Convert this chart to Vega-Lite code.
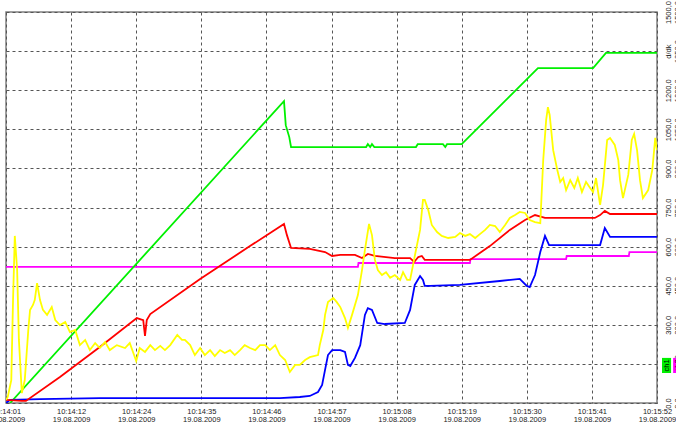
{
  "$schema": "https://vega.github.io/schema/vega-lite/v6.json",
  "width": 651,
  "height": 391,
  "autosize": {"type": "none"},
  "padding": {"left": 6, "top": 12, "right": 19, "bottom": 20},
  "background": "white",
  "config": {
    "view": {"stroke": "#808080", "strokeWidth": 1.5},
    "axis": {"labelFont": "Liberation Sans", "labelColor": "#222222", "labelFontSize": 7.5, "domain": false, "ticks": false, "title": null}
  },
  "datasets": {
    "lines": [
      {"s":"ch2","t":0,"v":522},{"s":"ch2","t":60.0,"v":522},{"s":"ch2","t":60.1,"v":537},{"s":"ch2","t":79.1,"v":537},{"s":"ch2","t":79.2,"v":552},{"s":"ch2","t":95.5,"v":552},{"s":"ch2","t":95.6,"v":564},{"s":"ch2","t":106.2,"v":564},{"s":"ch2","t":106.3,"v":579},{"s":"ch2","t":111,"v":579},

      {"s":"ch1","t":0.7,"v":0},{"s":"ch1","t":47.4,"v":1158},{"s":"ch1","t":47.7,"v":1066},{"s":"ch1","t":48.3,"v":1020},{"s":"ch1","t":48.6,"v":982},{"s":"ch1","t":61.4,"v":982},{"s":"ch1","t":61.7,"v":993},{"s":"ch1","t":62.1,"v":982},{"s":"ch1","t":62.4,"v":993},{"s":"ch1","t":62.8,"v":982},{"s":"ch1","t":69.9,"v":982},{"s":"ch1","t":70.2,"v":993},{"s":"ch1","t":74.5,"v":993},{"s":"ch1","t":74.9,"v":982},{"s":"ch1","t":75.2,"v":993},{"s":"ch1","t":77.7,"v":993},{"s":"ch1","t":90.7,"v":1285},{"s":"ch1","t":100.1,"v":1285},{"s":"ch1","t":102.3,"v":1343},{"s":"ch1","t":111,"v":1343},

      {"s":"ch5","t":0,"v":0},{"s":"ch5","t":0.7,"v":12},{"s":"ch5","t":5.8,"v":15},{"s":"ch5","t":16,"v":19},{"s":"ch5","t":33.1,"v":19},{"s":"ch5","t":46.7,"v":19},{"s":"ch5","t":50.1,"v":23},{"s":"ch5","t":51.8,"v":27},{"s":"ch5","t":53.2,"v":42},{"s":"ch5","t":53.9,"v":69},{"s":"ch5","t":54.4,"v":127},{"s":"ch5","t":54.9,"v":184},{"s":"ch5","t":55.6,"v":203},{"s":"ch5","t":57.0,"v":203},{"s":"ch5","t":57.8,"v":196},{"s":"ch5","t":58.3,"v":146},{"s":"ch5","t":58.7,"v":142},{"s":"ch5","t":59.5,"v":173},{"s":"ch5","t":60.4,"v":222},{"s":"ch5","t":61.2,"v":338},{"s":"ch5","t":61.7,"v":364},{"s":"ch5","t":62.4,"v":357},{"s":"ch5","t":63.3,"v":307},{"s":"ch5","t":64.6,"v":303},{"s":"ch5","t":68.0,"v":307},{"s":"ch5","t":68.9,"v":357},{"s":"ch5","t":69.7,"v":453},{"s":"ch5","t":70.6,"v":487},{"s":"ch5","t":71.1,"v":472},{"s":"ch5","t":71.4,"v":449},{"s":"ch5","t":72.3,"v":449},{"s":"ch5","t":77.4,"v":453},{"s":"ch5","t":84.2,"v":468},{"s":"ch5","t":87.6,"v":476},{"s":"ch5","t":88.8,"v":449},{"s":"ch5","t":89.3,"v":445},{"s":"ch5","t":90.2,"v":491},{"s":"ch5","t":91.1,"v":579},{"s":"ch5","t":91.9,"v":641},{"s":"ch5","t":92.6,"v":606},{"s":"ch5","t":101.3,"v":606},{"s":"ch5","t":102.1,"v":671},{"s":"ch5","t":103.0,"v":637},{"s":"ch5","t":111,"v":637},

      {"s":"ch4","t":0,"v":12},{"s":"ch4","t":2.7,"v":8},{"s":"ch4","t":3.4,"v":8},{"s":"ch4","t":9.2,"v":100},{"s":"ch4","t":16.0,"v":215},{"s":"ch4","t":22.3,"v":326},{"s":"ch4","t":23.4,"v":318},{"s":"ch4","t":23.7,"v":257},{"s":"ch4","t":24.0,"v":318},{"s":"ch4","t":24.6,"v":341},{"s":"ch4","t":33.1,"v":476},{"s":"ch4","t":41.6,"v":602},{"s":"ch4","t":47.4,"v":687},{"s":"ch4","t":47.9,"v":644},{"s":"ch4","t":48.6,"v":595},{"s":"ch4","t":51.8,"v":591},{"s":"ch4","t":54.4,"v":579},{"s":"ch4","t":55.6,"v":564},{"s":"ch4","t":57.0,"v":568},{"s":"ch4","t":59.5,"v":568},{"s":"ch4","t":60.7,"v":556},{"s":"ch4","t":61.7,"v":572},{"s":"ch4","t":62.9,"v":564},{"s":"ch4","t":66.3,"v":556},{"s":"ch4","t":68.9,"v":556},{"s":"ch4","t":69.6,"v":541},{"s":"ch4","t":70.3,"v":560},{"s":"ch4","t":70.9,"v":564},{"s":"ch4","t":71.4,"v":549},{"s":"ch4","t":79.1,"v":549},{"s":"ch4","t":82.5,"v":602},{"s":"ch4","t":85.9,"v":664},{"s":"ch4","t":88.5,"v":702},{"s":"ch4","t":90.2,"v":721},{"s":"ch4","t":91.9,"v":710},{"s":"ch4","t":96.2,"v":710},{"s":"ch4","t":100.4,"v":710},{"s":"ch4","t":101.3,"v":721},{"s":"ch4","t":102.1,"v":737},{"s":"ch4","t":103.0,"v":725},{"s":"ch4","t":111,"v":725},

      {"s":"ch3","t":0,"v":12},{"s":"ch3","t":0.3,"v":23},{"s":"ch3","t":0.9,"v":88},{"s":"ch3","t":1.2,"v":395},{"s":"ch3","t":1.5,"v":641},{"s":"ch3","t":1.9,"v":510},{"s":"ch3","t":2.2,"v":242},{"s":"ch3","t":2.7,"v":38},{"s":"ch3","t":3.2,"v":88},{"s":"ch3","t":3.8,"v":280},{"s":"ch3","t":4.1,"v":357},{"s":"ch3","t":4.6,"v":376},{"s":"ch3","t":4.9,"v":395},{"s":"ch3","t":5.3,"v":460},{"s":"ch3","t":5.8,"v":395},{"s":"ch3","t":6.3,"v":357},{"s":"ch3","t":7.0,"v":338},{"s":"ch3","t":7.8,"v":368},{"s":"ch3","t":8.4,"v":318},{"s":"ch3","t":9.2,"v":299},{"s":"ch3","t":10.1,"v":311},{"s":"ch3","t":10.9,"v":272},{"s":"ch3","t":11.8,"v":280},{"s":"ch3","t":12.6,"v":222},{"s":"ch3","t":13.5,"v":242},{"s":"ch3","t":14.3,"v":203},{"s":"ch3","t":15.2,"v":230},{"s":"ch3","t":16.0,"v":211},{"s":"ch3","t":16.9,"v":234},{"s":"ch3","t":17.7,"v":203},{"s":"ch3","t":18.9,"v":222},{"s":"ch3","t":20.3,"v":211},{"s":"ch3","t":21.1,"v":230},{"s":"ch3","t":22.2,"v":161},{"s":"ch3","t":22.8,"v":211},{"s":"ch3","t":23.7,"v":196},{"s":"ch3","t":24.6,"v":222},{"s":"ch3","t":25.4,"v":203},{"s":"ch3","t":26.3,"v":219},{"s":"ch3","t":27.1,"v":203},{"s":"ch3","t":28.0,"v":222},{"s":"ch3","t":29.2,"v":261},{"s":"ch3","t":30.0,"v":242},{"s":"ch3","t":30.5,"v":242},{"s":"ch3","t":31.4,"v":222},{"s":"ch3","t":32.2,"v":184},{"s":"ch3","t":33.1,"v":211},{"s":"ch3","t":33.9,"v":184},{"s":"ch3","t":34.8,"v":203},{"s":"ch3","t":35.6,"v":180},{"s":"ch3","t":36.5,"v":203},{"s":"ch3","t":37.3,"v":192},{"s":"ch3","t":38.2,"v":203},{"s":"ch3","t":39.0,"v":184},{"s":"ch3","t":39.9,"v":203},{"s":"ch3","t":40.7,"v":222},{"s":"ch3","t":41.6,"v":211},{"s":"ch3","t":42.5,"v":203},{"s":"ch3","t":43.3,"v":222},{"s":"ch3","t":44.2,"v":222},{"s":"ch3","t":45.0,"v":203},{"s":"ch3","t":45.9,"v":222},{"s":"ch3","t":46.7,"v":184},{"s":"ch3","t":47.6,"v":165},{"s":"ch3","t":48.4,"v":119},{"s":"ch3","t":49.3,"v":146},{"s":"ch3","t":50.1,"v":146},{"s":"ch3","t":51.0,"v":165},{"s":"ch3","t":51.8,"v":176},{"s":"ch3","t":53.2,"v":184},{"s":"ch3","t":53.5,"v":222},{"s":"ch3","t":54.1,"v":280},{"s":"ch3","t":54.4,"v":338},{"s":"ch3","t":54.9,"v":387},{"s":"ch3","t":55.8,"v":403},{"s":"ch3","t":56.4,"v":387},{"s":"ch3","t":57.0,"v":368},{"s":"ch3","t":57.8,"v":326},{"s":"ch3","t":58.3,"v":288},{"s":"ch3","t":59.0,"v":338},{"s":"ch3","t":60.0,"v":414},{"s":"ch3","t":60.7,"v":510},{"s":"ch3","t":61.2,"v":587},{"s":"ch3","t":61.9,"v":687},{"s":"ch3","t":62.4,"v":644},{"s":"ch3","t":62.9,"v":549},{"s":"ch3","t":63.4,"v":510},{"s":"ch3","t":64.1,"v":491},{"s":"ch3","t":64.8,"v":502},{"s":"ch3","t":65.5,"v":480},{"s":"ch3","t":66.3,"v":491},{"s":"ch3","t":67.2,"v":472},{"s":"ch3","t":67.7,"v":502},{"s":"ch3","t":68.4,"v":472},{"s":"ch3","t":68.9,"v":472},{"s":"ch3","t":69.4,"v":529},{"s":"ch3","t":69.9,"v":587},{"s":"ch3","t":70.6,"v":664},{"s":"ch3","t":71.1,"v":779},{"s":"ch3","t":71.4,"v":779},{"s":"ch3","t":72.0,"v":740},{"s":"ch3","t":72.6,"v":683},{"s":"ch3","t":73.5,"v":656},{"s":"ch3","t":74.3,"v":641},{"s":"ch3","t":75.4,"v":633},{"s":"ch3","t":76.6,"v":637},{"s":"ch3","t":77.4,"v":652},{"s":"ch3","t":78.3,"v":641},{"s":"ch3","t":79.1,"v":648},{"s":"ch3","t":80.0,"v":633},{"s":"ch3","t":80.8,"v":648},{"s":"ch3","t":81.7,"v":664},{"s":"ch3","t":82.5,"v":683},{"s":"ch3","t":83.4,"v":679},{"s":"ch3","t":84.2,"v":656},{"s":"ch3","t":85.1,"v":683},{"s":"ch3","t":85.9,"v":710},{"s":"ch3","t":86.8,"v":721},{"s":"ch3","t":87.6,"v":733},{"s":"ch3","t":88.5,"v":729},{"s":"ch3","t":89.3,"v":702},{"s":"ch3","t":90.2,"v":694},{"s":"ch3","t":91.1,"v":690},{"s":"ch3","t":91.6,"v":932},{"s":"ch3","t":92.1,"v":1086},{"s":"ch3","t":92.4,"v":1135},{"s":"ch3","t":92.7,"v":1105},{"s":"ch3","t":93.3,"v":970},{"s":"ch3","t":94.0,"v":894},{"s":"ch3","t":94.5,"v":848},{"s":"ch3","t":95.0,"v":863},{"s":"ch3","t":95.5,"v":817},{"s":"ch3","t":96.2,"v":855},{"s":"ch3","t":96.9,"v":825},{"s":"ch3","t":97.5,"v":863},{"s":"ch3","t":98.2,"v":809},{"s":"ch3","t":98.9,"v":848},{"s":"ch3","t":99.6,"v":825},{"s":"ch3","t":100.1,"v":809},{"s":"ch3","t":100.6,"v":863},{"s":"ch3","t":101.3,"v":760},{"s":"ch3","t":101.8,"v":836},{"s":"ch3","t":102.5,"v":1009},{"s":"ch3","t":103.0,"v":1017},{"s":"ch3","t":103.8,"v":990},{"s":"ch3","t":104.4,"v":932},{"s":"ch3","t":104.7,"v":855},{"s":"ch3","t":105.2,"v":786},{"s":"ch3","t":106.1,"v":875},{"s":"ch3","t":106.7,"v":1009},{"s":"ch3","t":107.1,"v":1032},{"s":"ch3","t":107.6,"v":970},{"s":"ch3","t":108.1,"v":855},{"s":"ch3","t":108.6,"v":786},{"s":"ch3","t":109.5,"v":817},{"s":"ch3","t":110.2,"v":894},{"s":"ch3","t":110.7,"v":1017},{"s":"ch3","t":111,"v":970}
    ],
    "boxes": [
      {"s":"ch1","label":"ch1","x1":111.85,"x2":113.4,"xm":112.62,"y1":115,"y2":173,"ym":144},
      {"s":"ch2","label":"ch2","x1":113.75,"x2":115.3,"xm":114.52,"y1":115,"y2":173,"ym":144}
    ]
  },
  "layer": [
    {
      "data": {"name": "lines"},
      "mark": {"type": "line", "strokeWidth": 1.8, "clip": true},
      "encoding": {
        "x": {"field": "t", "type": "quantitative", "scale": {"domain": [0, 111], "nice": false, "zero": false},
          "axis": {"title": null, "values": [0, 11.1, 22.2, 33.3, 44.4, 55.5, 66.6, 77.7, 88.8, 99.9, 111], "grid": true, "gridColor": "#555555", "gridDash": [3, 3], "gridWidth": 1, "labelPadding": 4, "labelLineHeight": 8, "labelFlush": false, "labelOverlap": false, "labelBound": false,
            "labelExpr": "[['10:14:01','10:14:12','10:14:24','10:14:35','10:14:46','10:14:57','10:15:08','10:15:19','10:15:30','10:15:41','10:15:52'][round(datum.value/11.1)], '19.08.2009']"}},
        "y": {"field": "v", "type": "quantitative", "scale": {"domain": [0, 1500], "nice": false, "zero": true},
          "axis": {"title": null, "orient": "right", "values": [0,150,300,450,600,750,900,1050,1200,1350,1500], "grid": true, "gridColor": "#555555", "gridDash": [3, 3], "gridWidth": 1, "labelAngle": 270, "labelAlign": "center", "labelBaseline": "top", "labelPadding": 7, "labelOverlap": false, "labelFlush": false, "labelBound": false,
            "labelExpr": "datum.value == 1350 ? 'd/dk' : (datum.value == 150 ? '' : replace(format(datum.value, '.1f'), '.', ','))"}},
        "color": {"field": "s", "type": "nominal", "legend": null,
          "scale": {"domain": ["ch1", "ch2", "ch3", "ch4", "ch5"], "range": ["#00f000", "#ff00ff", "#ffff00", "#ff0000", "#0000ff"]}}
      }
    },
    {
      "data": {"name": "boxes"},
      "mark": {"type": "rect", "clip": false},
      "encoding": {
        "x": {"field": "x1", "type": "quantitative", "scale": {"domain": [0, 111], "nice": false, "zero": false},
          "axis": {"title": null, "values": [0, 11.1, 22.2, 33.3, 44.4, 55.5, 66.6, 77.7, 88.8, 99.9, 111], "grid": true, "gridColor": "#555555", "gridDash": [3, 3], "gridWidth": 1, "labelPadding": 4, "labelLineHeight": 8, "labelFlush": false, "labelOverlap": false, "labelBound": false,
            "labelExpr": "[['10:14:01','10:14:12','10:14:24','10:14:35','10:14:46','10:14:57','10:15:08','10:15:19','10:15:30','10:15:41','10:15:52'][round(datum.value/11.1)], '19.08.2009']"}},
        "x2": {"field": "x2"},
        "y": {"field": "y1", "type": "quantitative", "scale": {"domain": [0, 1500], "nice": false, "zero": true},
          "axis": {"title": null, "orient": "right", "offset": 13, "values": [0,150,300,450,600,750,900,1050,1200,1350,1500], "grid": false, "labelAngle": 270, "labelAlign": "center", "labelBaseline": "top", "labelPadding": 3, "labelOverlap": false, "labelFlush": false, "labelBound": false,
            "labelExpr": "replace(format(datum.value, '.1f'), '.', ',')"}},
        "y2": {"field": "y2"},
        "color": {"field": "s", "type": "nominal", "legend": null}
      }
    },
    {
      "data": {"name": "boxes"},
      "mark": {"type": "text", "angle": 270, "fontSize": 7.5, "font": "Liberation Sans", "color": "#000000", "align": "center", "baseline": "middle", "clip": false},
      "encoding": {
        "x": {"field": "xm", "type": "quantitative", "scale": {"domain": [0, 111], "nice": false, "zero": false},
          "axis": {"title": null, "values": [0, 11.1, 22.2, 33.3, 44.4, 55.5, 66.6, 77.7, 88.8, 99.9, 111], "grid": true, "gridColor": "#555555", "gridDash": [3, 3], "gridWidth": 1, "labelPadding": 4, "labelLineHeight": 8, "labelFlush": false, "labelOverlap": false, "labelBound": false,
            "labelExpr": "[['10:14:01','10:14:12','10:14:24','10:14:35','10:14:46','10:14:57','10:15:08','10:15:19','10:15:30','10:15:41','10:15:52'][round(datum.value/11.1)], '19.08.2009']"}},
        "y": {"field": "ym", "type": "quantitative", "scale": {"domain": [0, 1500], "nice": false, "zero": true}, "axis": null},
        "text": {"field": "label"}
      }
    }
  ],
  "resolve": {"axis": {"y": "independent"}}
}
